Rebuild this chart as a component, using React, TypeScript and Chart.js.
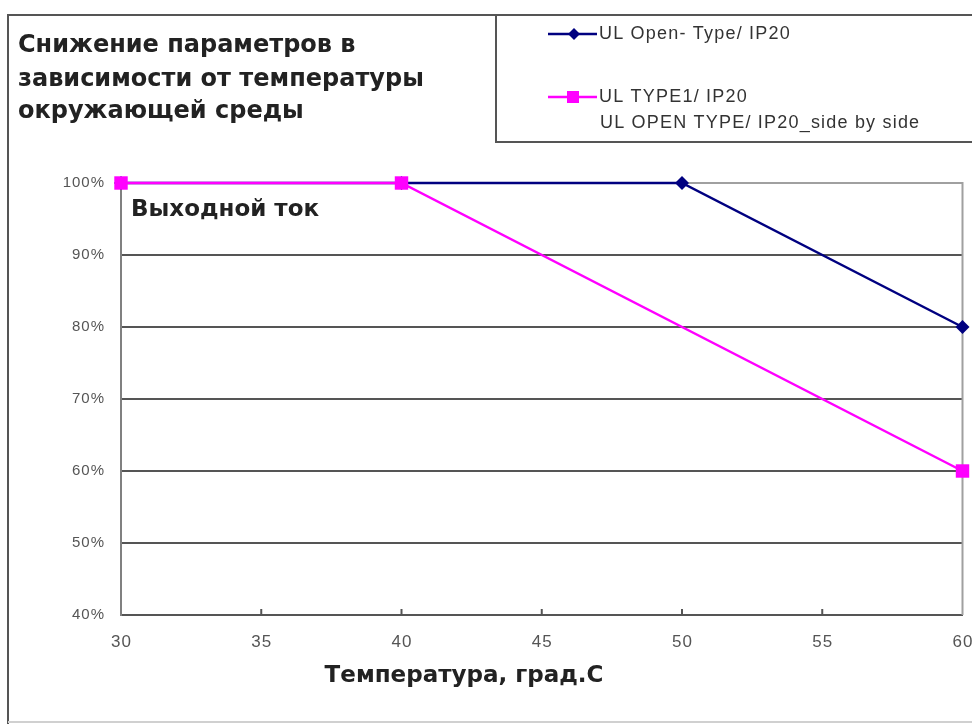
import React, { useEffect, useRef } from "react";
import { Chart, registerables } from "chart.js";

Chart.register(...registerables);

const temperatures = [30, 35, 40, 45, 50, 55, 60];
const openTypeX = [30, 40, 50, 60];
const openTypeY = [100, 100, 100, 80];
const type1X = [30, 40, 60];
const type1Y = [100, 100, 60];
const seriesNames = ["UL Open- Type/ IP20", "UL TYPE1/ IP20", "UL OPEN TYPE/ IP20_side by side"];
const titleLines = ["Снижение параметров в", "зависимости от температуры", "окружающей среды"];
const insideLabel = "Выходной ток";
const xTitle = "Температура, град.С";

const NAVY = "#000080";
const PINK = "#FF00FF";

export default function App() {
  const ref = useRef<HTMLCanvasElement | null>(null);

  useEffect(() => {
    const canvas = ref.current;
    if (!canvas) return;

    const decor = {
      id: "decor",
      beforeDraw(chart: any) {
        (chart.ctx as any).letterSpacing = "1px";
      },
      beforeDatasetsDraw(chart: any) {
        const { ctx, chartArea } = chart;
        const { left, right, top, bottom } = chartArea;
        ctx.save();
        ctx.strokeStyle = "#a0a0a0";
        ctx.lineWidth = 2;
        ctx.beginPath();
        ctx.moveTo(left, top);
        ctx.lineTo(right, top);
        ctx.lineTo(right, bottom);
        ctx.stroke();
        // inward tick marks and labels on the x axis
        const xs = chart.scales.x;
        ctx.strokeStyle = "#555";
        ctx.lineWidth = 2;
        ctx.fillStyle = "#555";
        ctx.font = "17px 'Liberation Sans'";
        ctx.textAlign = "center";
        ctx.textBaseline = "middle";
        (ctx as any).letterSpacing = "1px";
        temperatures.forEach((t) => {
          const px = xs.getPixelForValue(t);
          ctx.fillText(String(t), px + 0.5, 642);
          if (t === 30 || t === 60) return;
          ctx.beginPath();
          ctx.moveTo(px, bottom);
          ctx.lineTo(px, bottom - 6);
          ctx.stroke();
        });
        ctx.restore();
      },
      afterDraw(chart: any) {
        const { ctx } = chart;
        ctx.save();
        // outer frame
        ctx.strokeStyle = "#555";
        ctx.lineWidth = 2;
        ctx.beginPath();
        ctx.moveTo(8, 724);
        ctx.lineTo(8, 15);
        ctx.lineTo(980, 15);
        ctx.stroke();
        ctx.strokeStyle = "#d0d0d0";
        ctx.beginPath();
        ctx.moveTo(8, 722);
        ctx.lineTo(980, 722);
        ctx.stroke();
        // legend box
        ctx.strokeStyle = "#555";
        ctx.beginPath();
        ctx.moveTo(980, 142);
        ctx.lineTo(496, 142);
        ctx.lineTo(496, 15);
        ctx.stroke();

        // title
        ctx.letterSpacing = "0px";
        ctx.fillStyle = "#222";
        ctx.textBaseline = "middle";
        ctx.textAlign = "left";
        ctx.font = "bold 24px 'DejaVu Sans'";
        const ty = [46, 80, 112];
        titleLines.forEach((l, i) => ctx.fillText(l, 18, ty[i]));

        // label inside plot
        ctx.font = "bold 23px 'DejaVu Sans'";
        ctx.fillText(insideLabel, 131, 210);

        // x axis title
        ctx.font = "bold 23px 'DejaVu Sans'";
        ctx.textAlign = "center";
        ctx.fillText(xTitle, 464, 676);

        // legend entries
        ctx.textAlign = "left";
        ctx.letterSpacing = "1.2px";
        ctx.font = "18px 'Liberation Sans'";
        // entry 1
        ctx.strokeStyle = NAVY;
        ctx.lineWidth = 2.5;
        ctx.beginPath();
        ctx.moveTo(548, 34);
        ctx.lineTo(597, 34);
        ctx.stroke();
        ctx.fillStyle = NAVY;
        ctx.beginPath();
        ctx.moveTo(574, 28);
        ctx.lineTo(580, 34);
        ctx.lineTo(574, 40);
        ctx.lineTo(568, 34);
        ctx.closePath();
        ctx.fill();
        ctx.fillStyle = "#333";
        ctx.fillText(seriesNames[0], 599, 34);
        // entry 2
        ctx.strokeStyle = PINK;
        ctx.beginPath();
        ctx.moveTo(548, 97);
        ctx.lineTo(597, 97);
        ctx.stroke();
        ctx.fillStyle = PINK;
        ctx.fillRect(567, 91, 12, 12);
        ctx.fillStyle = "#333";
        ctx.fillText(seriesNames[1], 599, 97);
        ctx.fillText(seriesNames[2], 600, 123);
        ctx.restore();
      },
    };

    const chart = new Chart(canvas, {
      type: "line",
      data: {
        datasets: [
          {
            label: seriesNames[1],
            data: type1X.map((x, i) => ({ x, y: type1Y[i] })),
            borderColor: PINK,
            backgroundColor: PINK,
            borderWidth: 2.5,
            pointStyle: "rect",
            pointRadius: 9.5,
            pointBorderWidth: 0,
            tension: 0,
            clip: false,
          },
          {
            label: seriesNames[0],
            data: openTypeX.map((x, i) => ({ x, y: openTypeY[i] })),
            borderColor: NAVY,
            backgroundColor: NAVY,
            borderWidth: 2.5,
            pointStyle: "rectRot",
            pointRadius: 7,
            pointBorderWidth: 0,
            tension: 0,
            clip: false,
          },
        ],
      },
      plugins: [decor],
      options: {
        animation: false,
        responsive: false,
        maintainAspectRatio: false,
        layout: { padding: { left: 0, top: 183, right: 4, bottom: 0 } },
        plugins: { legend: { display: false }, title: { display: false }, tooltip: { enabled: false } },
        scales: {
          x: {
            type: "linear",
            min: 30,
            max: 60,
            afterBuildTicks: (scale: any) => {
              scale.ticks = temperatures.map((v) => ({ value: v }));
            },
            ticks: { display: false },
            grid: { display: false, drawTicks: false },
            border: { display: true, color: "#555", width: 2 },
            afterFit: (scale: any) => {
              scale.height = 109;
            },
          },
          y: {
            min: 40,
            max: 100,
            ticks: {
              stepSize: 10,
              color: "#555",
              font: { family: "'Liberation Sans'", size: 15 },
              padding: 16,
              callback: (v: any) => v + "%",
            },
            grid: {
              drawTicks: false,
              color: (c: any) => (c.tick && c.tick.value > 40 && c.tick.value < 100 ? "#555" : "rgba(0,0,0,0)"),
              lineWidth: 2,
            },
            border: { display: true, color: "#808080", width: 2 },
            afterFit: (scale: any) => {
              scale.width = 121;
            },
          },
        },
      },
    } as any);

    return () => chart.destroy();
  }, []);

  return (
    <div style={{ position: "fixed", left: 0, top: 0, width: 972, height: 724, overflow: "hidden", background: "#fff" }}>
      <canvas ref={ref} width={972} height={724} style={{ display: "block", width: 972, height: 724 }} />
    </div>
  );
}
